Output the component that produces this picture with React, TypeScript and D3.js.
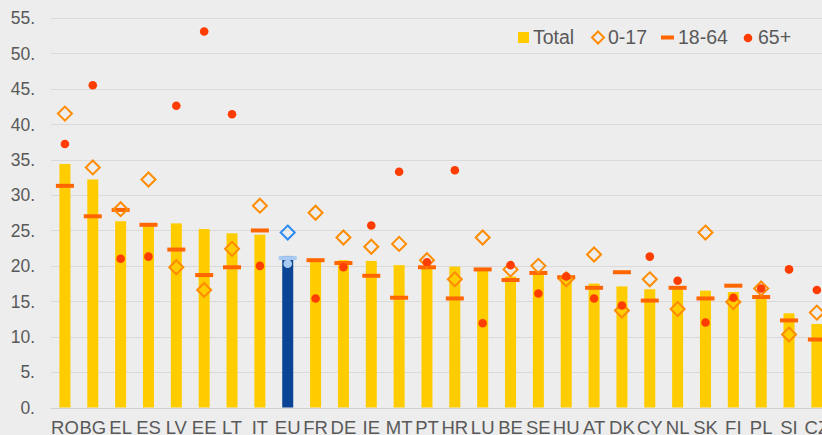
import React, { useEffect, useRef } from 'react';
import * as d3 from 'd3';

const countries = ['RO', 'BG', 'EL', 'ES', 'LV', 'EE', 'LT', 'IT', 'EU', 'FR', 'DE', 'IE', 'MT', 'PT', 'HR', 'LU', 'BE', 'SE', 'HU', 'AT', 'DK', 'CY', 'NL', 'SK', 'FI', 'PL', 'SI', 'CZ'];
const total = [34.4, 32.2, 26.3, 25.7, 26.0, 25.2, 24.6, 24.4, 21.4, 20.7, 20.8, 20.7, 20.1, 19.9, 19.9, 19.4, 18.5, 18.8, 18.5, 17.5, 17.1, 16.7, 16.8, 16.5, 16.3, 15.8, 13.3, 11.8];
const age0to17 = [41.5, 33.9, 28.0, 32.2, 19.8, 16.6, 22.4, 28.5, 24.7, 27.5, 24.0, 22.7, 23.1, 20.8, 18.1, 24.0, 19.5, 20.0, 18.1, 21.6, 13.7, 18.1, 13.9, 24.7, 14.9, 16.8, 10.3, 13.4];
const age18to64 = [31.3, 27.0, 27.9, 25.8, 22.3, 18.7, 19.8, 25.0, 21.1, 20.8, 20.4, 18.6, 15.5, 19.8, 15.4, 19.5, 18.0, 19.0, 18.4, 16.9, 19.1, 15.1, 16.9, 15.4, 17.2, 15.6, 12.3, 9.6];
const age65plus = [37.2, 45.5, 21.0, 21.3, 42.6, 53.1, 41.4, 20.0, 20.3, 15.4, 19.8, 25.7, 33.3, 20.5, 33.5, 11.9, 20.1, 16.1, 18.5, 15.4, 14.4, 21.3, 17.9, 12.0, 15.5, 16.8, 19.5, 16.6];
const yTicks = [0, 5, 10, 15, 20, 25, 30, 35, 40, 45, 50, 55];

const W = 822;
const H = 435;
const FONT = '"Liberation Sans", Arial, sans-serif';
const TEXT = '#595959';
const YELLOW = '#ffcc00';
const ORANGE = '#ff8c00';
const DASH = '#ff6600';
const DOT = '#ff3d00';

const App = () => {
    const svgRef = useRef(null);

    useEffect(() => {
        const svg = d3.select(svgRef.current);
        svg.selectAll('*').remove();

        const left = 51;
        const x = d3.scaleBand().domain(countries).range([left, left + 28 * 27.85]).padding(0);
        const y = d3.scaleLinear().domain([0, 55]).range([407.5, 18]);
        const cx = (c) => x(c) + x.bandwidth() / 2;
        const isEU = (c) => c === 'EU';

        svg.append('rect').attr('width', W).attr('height', H).attr('fill', '#ededed');

        // grid
        svg.append('g').selectAll('line').data(yTicks).join('line')
            .attr('x1', left).attr('x2', W)
            .attr('y1', d => Math.round(y(d)) + 0.5).attr('y2', d => Math.round(y(d)) + 0.5)
            .attr('stroke', d => d === 0 ? '#d0d0d0' : '#d9d9d9')
            .attr('stroke-width', 1);

        // y labels
        svg.append('g').selectAll('text').data(yTicks).join('text')
            .attr('x', 35).attr('y', d => y(d))
            .attr('dy', '0.36em')
            .attr('text-anchor', 'end')
            .attr('font-family', FONT).attr('font-size', 17.5).attr('fill', TEXT)
            .text(d => `${d}.`);

        // x labels (the reference crops them at the bottom edge)
        svg.append('g').selectAll('text').data(countries).join('text')
            .attr('x', d => cx(d)).attr('y', 433.5)
            .attr('text-anchor', 'middle')
            .attr('font-family', FONT).attr('font-size', 18.5).attr('fill', TEXT)
            .text(d => d);

        // bars
        const bw = 11;
        svg.append('g').selectAll('rect').data(countries).join('rect')
            .attr('x', d => cx(d) - bw / 2)
            .attr('y', (d, i) => y(total[i]))
            .attr('width', bw)
            .attr('height', (d, i) => y(0) - y(total[i]))
            .attr('fill', d => isEU(d) ? '#0b4494' : YELLOW);

        // 18-64 dashes
        svg.append('g').selectAll('rect').data(countries).join('rect')
            .attr('x', d => cx(d) - 9)
            .attr('y', (d, i) => y(age18to64[i]) - 2)
            .attr('width', 18).attr('height', 4)
            .attr('fill', d => isEU(d) ? '#a8caf3' : DASH);

        // 0-17 diamonds
        const s = 7;
        svg.append('g').selectAll('path').data(countries).join('path')
            .attr('d', (d, i) => {
                const px = cx(d), py = y(age0to17[i]);
                return `M${px},${py - s}L${px + s},${py}L${px},${py + s}L${px - s},${py}Z`;
            })
            .attr('fill', 'none')
            .attr('stroke', d => isEU(d) ? '#2d8cf0' : ORANGE)
            .attr('stroke-width', 2);

        // 65+ dots
        svg.append('g').selectAll('circle').data(countries).join('circle')
            .attr('cx', d => cx(d))
            .attr('cy', (d, i) => y(age65plus[i]))
            .attr('r', 4.3)
            .attr('fill', d => isEU(d) ? '#a8c9f0' : DOT);

        // legend
        const lg = svg.append('g').attr('font-family', FONT).attr('font-size', 19.5).attr('fill', TEXT);
        lg.append('rect').attr('x', 518).attr('y', 32).attr('width', 11).attr('height', 11).attr('fill', YELLOW);
        lg.append('text').attr('x', 533).attr('y', 44).text('Total');
        lg.append('path').attr('d', 'M598,31.5L604,37.5L598,43.5L592,37.5Z')
            .attr('fill', 'none').attr('stroke', ORANGE).attr('stroke-width', 2);
        lg.append('text').attr('x', 608).attr('y', 44).text('0-17');
        lg.append('rect').attr('x', 661).attr('y', 35.5).attr('width', 13).attr('height', 4).attr('fill', DASH);
        lg.append('text').attr('x', 678).attr('y', 44).text('18-64');
        lg.append('circle').attr('cx', 748).attr('cy', 38).attr('r', 4.3).attr('fill', DOT);
        lg.append('text').attr('x', 758).attr('y', 44).text('65+');
    }, []);

    return (
        <svg ref={svgRef} width={W} height={H}
            style={{ position: 'absolute', left: 0, top: 0, display: 'block' }} />
    );
};

export default App;
